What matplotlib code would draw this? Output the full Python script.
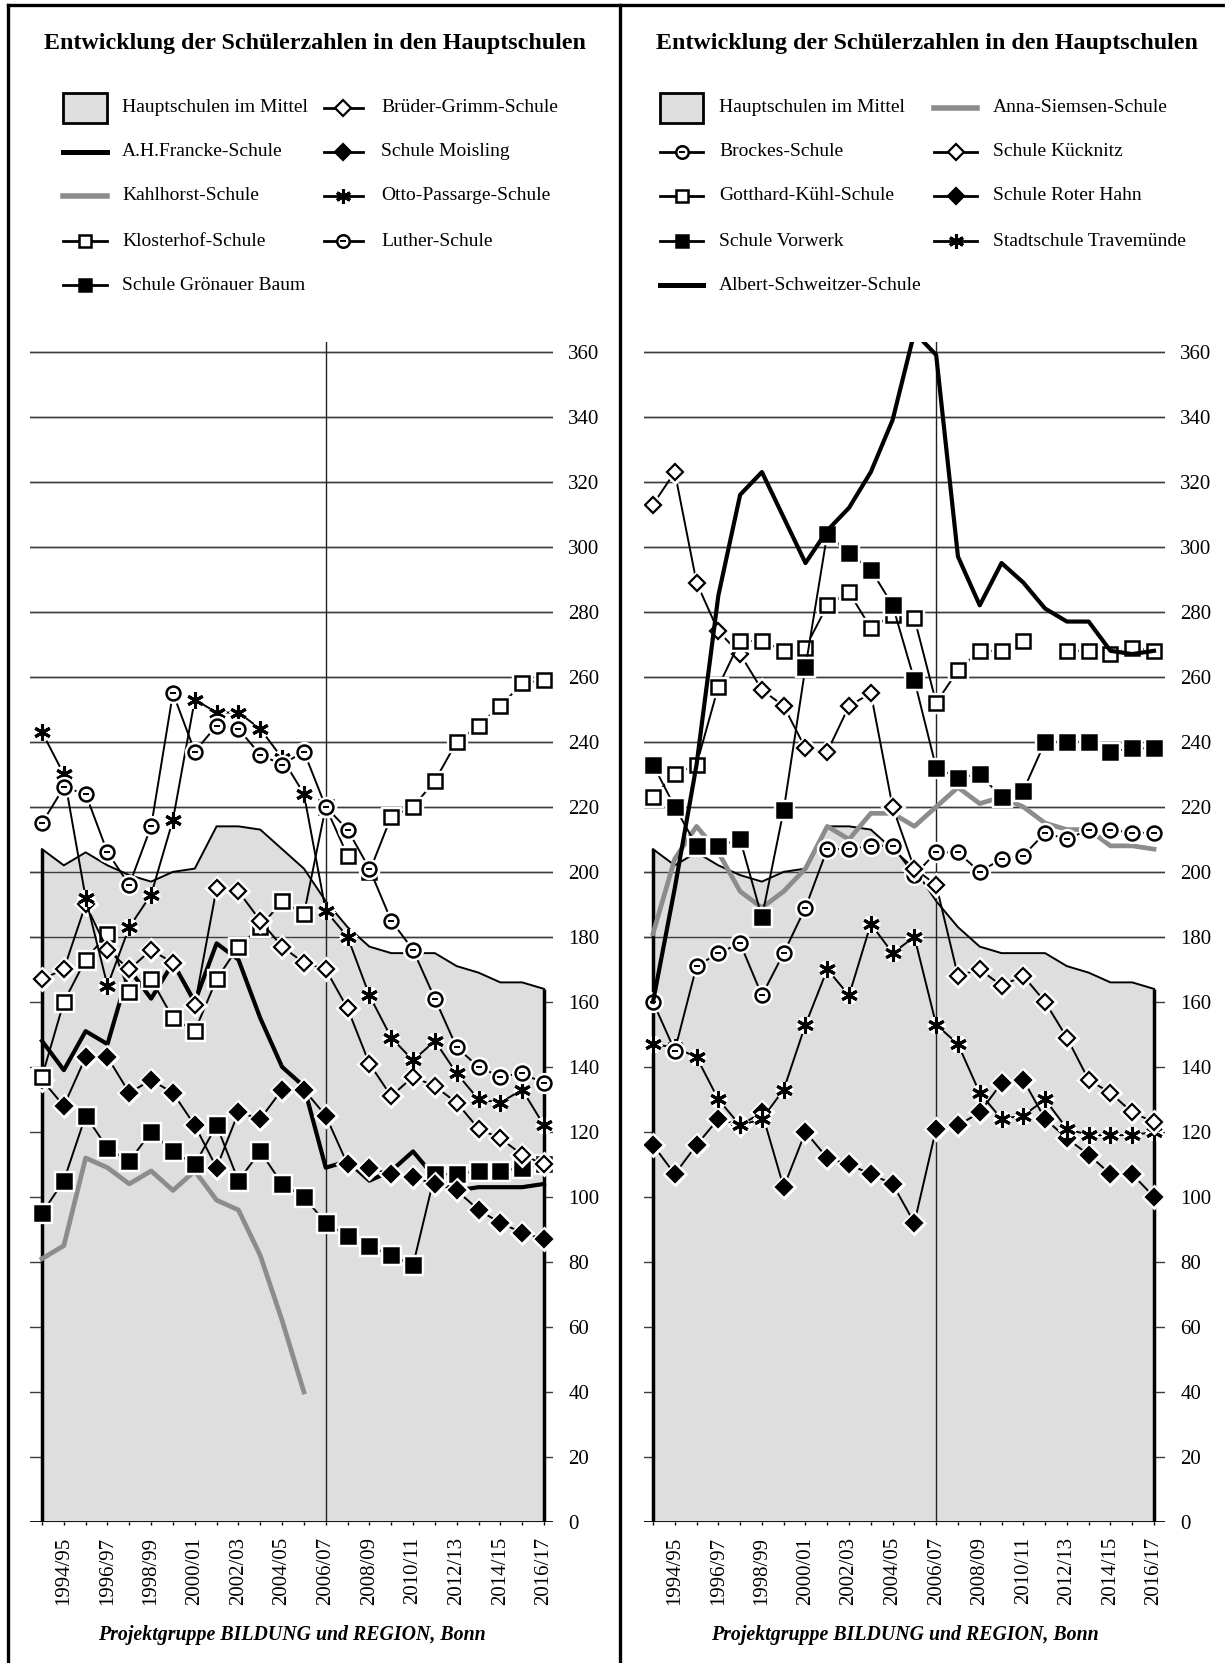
import numpy as np
import matplotlib
matplotlib.use("Agg")
import matplotlib.pyplot as plt
from matplotlib.lines import Line2D
from matplotlib.patches import Rectangle

plt.rcParams['font.family'] = ['Liberation Serif', 'DejaVu Serif']

# Schuljahre (x-Achse)
jahre = ["1993/94", "1994/95", "1995/96", "1996/97", "1997/98", "1998/99",
         "1999/00", "2000/01", "2001/02", "2002/03", "2003/04", "2004/05",
         "2005/06", "2006/07", "2007/08", "2008/09", "2009/10", "2010/11",
         "2011/12", "2012/13", "2013/14", "2014/15", "2015/16", "2016/17"]

# Hauptschulen im Mittel (beide Grafiken)
mittel = [207, 202, 206, 202, 199, 197, 200, 201, 214, 214, 213, 207,
          201, 191, 183, 177, 175, 175, 175, 171, 169, 166, 166, 164]

# linke Grafik
francke = [148, 139, 151, 147, 170, 161, 172, 160, 178, 173, 155, 140,
           134, 109, 111, 105, 108, 114, 106, 102, 103, 103, 103, 104]
kahlhorst = [81, 85, 112, 109, 104, 108, 102, 108, 99, 96, 82, 62, 40]
klosterhof = [137, 160, 173, 181, 163, 167, 155, 151, 167, 177, 183, 191,
              187, 220, 205, 200, 217, 220, 228, 240, 245, 251, 258, 259]
groenauer = [95, 105, 125, 115, 111, 120, 114, 110, 122, 105, 114, 104,
             100, 92, 88, 85, 82, 79, 107, 107, 108, 108, 109, 110]
grimm = [167, 170, 190, 176, 170, 176, 172, 159, 195, 194, 185, 177,
         172, 170, 158, 141, 131, 137, 134, 129, 121, 118, 113, 110]
moisling = [136, 128, 143, 143, 132, 136, 132, 122, 109, 126, 124, 133,
            133, 125, 110, 109, 107, 106, 104, 102, 96, 92, 89, 87]
passarge = [243, 230, 192, 165, 183, 193, 216, 253, 249, 249, 244, 235,
            224, 188, 180, 162, 149, 142, 148, 138, 130, 129, 133, 122]
luther = [215, 226, 224, 206, 196, 214, 255, 237, 245, 244, 236, 233,
          237, 220, 213, 201, 185, 176, 161, 146, 140, 137, 138, 135]

# rechte Grafik
schweitzer = [160, 195, 233, 285, 316, 323, 309, 295, 305, 312, 323, 339,
              366, 359, 297, 282, 295, 289, 281, 277, 277, 268, 267, 268]
siemsen = [181, 204, 214, 206, 194, 189, 194, 201, 214, 210, 218, 218,
           214, 220, 226, 221, 223, 220, 215, 213, 213, 208, 208, 207]
brockes = [160, 145, 171, 175, 178, 162, 175, 189, 207, 207, 208, 208,
           199, 206, 206, 200, 204, 205, 212, 210, 213, 213, 212, 212]
kuecknitz = [313, 323, 289, 274, 267, 256, 251, 238, 237, 251, 255, 220,
             201, 196, 168, 170, 165, 168, 160, 149, 136, 132, 126, 123]
gotthard = [223, 230, 233, 257, 271, 271, 268, 269, 282, 286, 275, 279,
            278, 252, 262, 268, 268, 271, None, 268, 268, 267, 269, 268]
roter_hahn = [116, 107, 116, 124, 122, 126, 103, 120, 112, 110, 107, 104,
              92, 121, 122, 126, 135, 136, 124, 118, 113, 107, 107, 100]
vorwerk = [233, 220, 208, 208, 210, 186, 219, 263, 304, 298, 293, 282,
           259, 232, 229, 230, 223, 225, 240, 240, 240, 237, 238, 238]
travemuende = [147, 146, 143, 130, 122, 124, 133, 153, 170, 162, 184, 175,
               180, 153, 147, 132, 124, 125, 130, 121, 119, 119, 119, 120]

titel = "Entwicklung der Schülerzahlen in den Hauptschulen"
quelle = "Projektgruppe BILDUNG und REGION, Bonn"

GRAU = '#dedede'
STILE = {
    'schwarz': dict(linie='black', lw=3.0),
    'grau': dict(linie='#8c8c8c', lw=3.4),
    'quadrat_offen': dict(marker='s', ms=10, fc='white', mew=1.8),
    'quadrat_voll': dict(marker='s', ms=10, fc='black', mew=1.8),
    'raute_offen': dict(marker='D', ms=8.5, fc='white', mew=1.6),
    'raute_voll': dict(marker='D', ms=8.5, fc='black', mew=1.6),
    'stern': dict(marker=(6, 2, 0), ms=12, fc='black', mew=2.2),
    'kreis': dict(marker='o', ms=10, fc='white', mew=1.8, strich=True),
}

W, H = 1225, 1663
fig = plt.figure(figsize=(W / 100, H / 100), dpi=100)


def fx(px):
    return px / W


def fy(py):
    return 1 - py / H


def zeichne_reihe(ax, werte, stil, z):
    s = STILE[stil]
    y = np.array(werte, dtype=float)
    x = np.arange(len(y))
    if 'linie' in s:
        ax.plot(x, y, color=s['linie'], lw=s['lw'], zorder=z)
        return
    ax.plot(x, y, color='black', lw=1.4, zorder=z)
    ax.plot(x, y, ls='none', marker=s['marker'], ms=s['ms'], mfc='white',
            mec='white', mew=s['mew'] + 3.5, zorder=z + 0.1)
    ax.plot(x, y, ls='none', marker=s['marker'], ms=s['ms'], mfc=s['fc'],
            mec='black', mew=s['mew'], zorder=z + 0.2)
    if s.get('strich'):
        ax.plot(x, y, ls='none', marker='_', ms=4.5, mew=1.4, color='black',
                zorder=z + 0.3)


def zeichne_legende(eintraege, griffe, text_x):
    zeilen = [108, 152, 196, 241, 285]
    for i, (name, stil) in enumerate(eintraege):
        sp, zl = (0, i) if i < 5 else (1, i - 5)
        x0, x1 = griffe[sp]
        yy = zeilen[zl]
        if stil == 'flaeche':
            fig.add_artist(Rectangle((fx(x0), fy(123)), (x1 - x0) / W, 30 / H,
                                     transform=fig.transFigure, fc=GRAU,
                                     ec='black', lw=2))
        else:
            s = STILE[stil]
            if 'linie' in s:
                fig.add_artist(Line2D([fx(x0), fx(x1)], [fy(yy)] * 2,
                                      color=s['linie'], lw=s['lw'] + 0.6))
            else:
                xm = (x0 + x1) / 2
                fig.add_artist(Line2D([fx(x0), fx(x1)], [fy(yy)] * 2,
                                      color='black', lw=2))
                fig.add_artist(Line2D([fx(xm)], [fy(yy)], marker=s['marker'],
                                      ms=s['ms'] * 0.9, mfc=s['fc'], mec='black',
                                      mew=s['mew']))
                if s.get('strich'):
                    fig.add_artist(Line2D([fx(xm)], [fy(yy)], marker='_', ms=4.5,
                                          mew=1.4, color='black'))
        fig.text(fx(text_x[sp]), fy(yy), name, va='center', ha='left', fontsize=14)


def zeichne_panel(links, rechts, x_erst, x_letzt, reihen, eintraege, griffe,
                  text_x, titel_x):
    ax = fig.add_axes([fx(links), fy(1522), (rechts - links) / W, 1180 / H])
    schritt = (x_letzt - x_erst) / 23
    ax.set_xlim(-(x_erst - links) / schritt, 23 + (rechts - x_letzt) / schritt)
    ax.set_ylim(0, 363)
    ax.set_facecolor('none')
    for s in ax.spines.values():
        s.set_visible(False)

    yticks = np.arange(0, 361, 20)
    ax.set_yticks(yticks)
    ax.yaxis.tick_right()
    ax.tick_params(axis='y', length=0, pad=11, labelsize=15)
    ax.set_xticks(np.arange(len(jahre)))
    ax.set_xticklabels([j if i % 2 else '' for i, j in enumerate(jahre)],
                       rotation=90)
    ax.tick_params(axis='x', length=5, direction='inout', width=1, pad=8,
                   labelsize=15)

    ax.set_axisbelow(True)
    ax.yaxis.grid(True, color='#3c3c3c', lw=1.0)

    xm = np.arange(len(mittel))
    ax.fill_between(xm, mittel, color=GRAU, lw=0, zorder=1)
    for v in yticks:
        if v > min(mittel):
            ax.axhline(v, color='#3c3c3c', lw=1.0, zorder=1.2)
    ax.plot(xm, mittel, color='black', lw=1.4, zorder=1.3)
    ax.vlines([xm[0], xm[-1]], 0, [mittel[0], mittel[-1]], color='black',
              lw=2.5, zorder=1.3)
    ax.axvline(jahre.index("2006/07"), color='#222222', lw=1.0, zorder=1.4)
    ax.axhline(0, color='black', lw=2, zorder=1.5)

    for k, (werte, stil) in enumerate(reihen):
        zeichne_reihe(ax, werte, stil, 2 + k)

    fig.text(fx(titel_x), fy(43), titel, ha='center', va='center',
             fontsize=17.3, fontweight='bold')
    fig.text(fx((links + rechts) / 2), fy(1635), quelle, ha='center',
             va='center', fontsize=14.3, fontweight='bold', fontstyle='italic')
    zeichne_legende(eintraege, griffe, text_x)
    return ax


# linke Grafik
zeichne_panel(
    30, 553, 42, 544,
    [(kahlhorst, 'grau'), (francke, 'schwarz'), (groenauer, 'quadrat_voll'),
     (moisling, 'raute_voll'), (klosterhof, 'quadrat_offen'),
     (grimm, 'raute_offen'), (passarge, 'stern'), (luther, 'kreis')],
    [("Hauptschulen im Mittel", 'flaeche'), ("A.H.Francke-Schule", 'schwarz'),
     ("Kahlhorst-Schule", 'grau'), ("Klosterhof-Schule", 'quadrat_offen'),
     ("Schule Grönauer Baum", 'quadrat_voll'),
     ("Brüder-Grimm-Schule", 'raute_offen'), ("Schule Moisling", 'raute_voll'),
     ("Otto-Passarge-Schule", 'stern'), ("Luther-Schule", 'kreis')],
    [(63, 107), (324, 363)], [122, 381], 315)

# rechte Grafik (Albert-Schweitzer-Schule zuletzt, liegt oben)
zeichne_panel(
    644, 1165, 653, 1154,
    [(siemsen, 'grau'), (roter_hahn, 'raute_voll'),
     (travemuende, 'stern'), (brockes, 'kreis'), (kuecknitz, 'raute_offen'),
     (gotthard, 'quadrat_offen'), (vorwerk, 'quadrat_voll'),
     (schweitzer, 'schwarz')],
    [("Hauptschulen im Mittel", 'flaeche'), ("Brockes-Schule", 'kreis'),
     ("Gotthard-Kühl-Schule", 'quadrat_offen'), ("Schule Vorwerk", 'quadrat_voll'),
     ("Albert-Schweitzer-Schule", 'schwarz'),
     ("Anna-Siemsen-Schule", 'grau'), ("Schule Kücknitz", 'raute_offen'),
     ("Schule Roter Hahn", 'raute_voll'), ("Stadtschule Travemünde", 'stern')],
    [(660, 703), (934, 977)], [719, 993], 927)

# Rahmen
for xr in (8, 620):
    fig.add_artist(Line2D([fx(xr)] * 2, [fy(5), fy(H)], color='black', lw=2.4))
fig.add_artist(Line2D([fx(8), fx(W)], [fy(5)] * 2, color='black', lw=2.4))

fig.savefig("out.png", dpi=100)
